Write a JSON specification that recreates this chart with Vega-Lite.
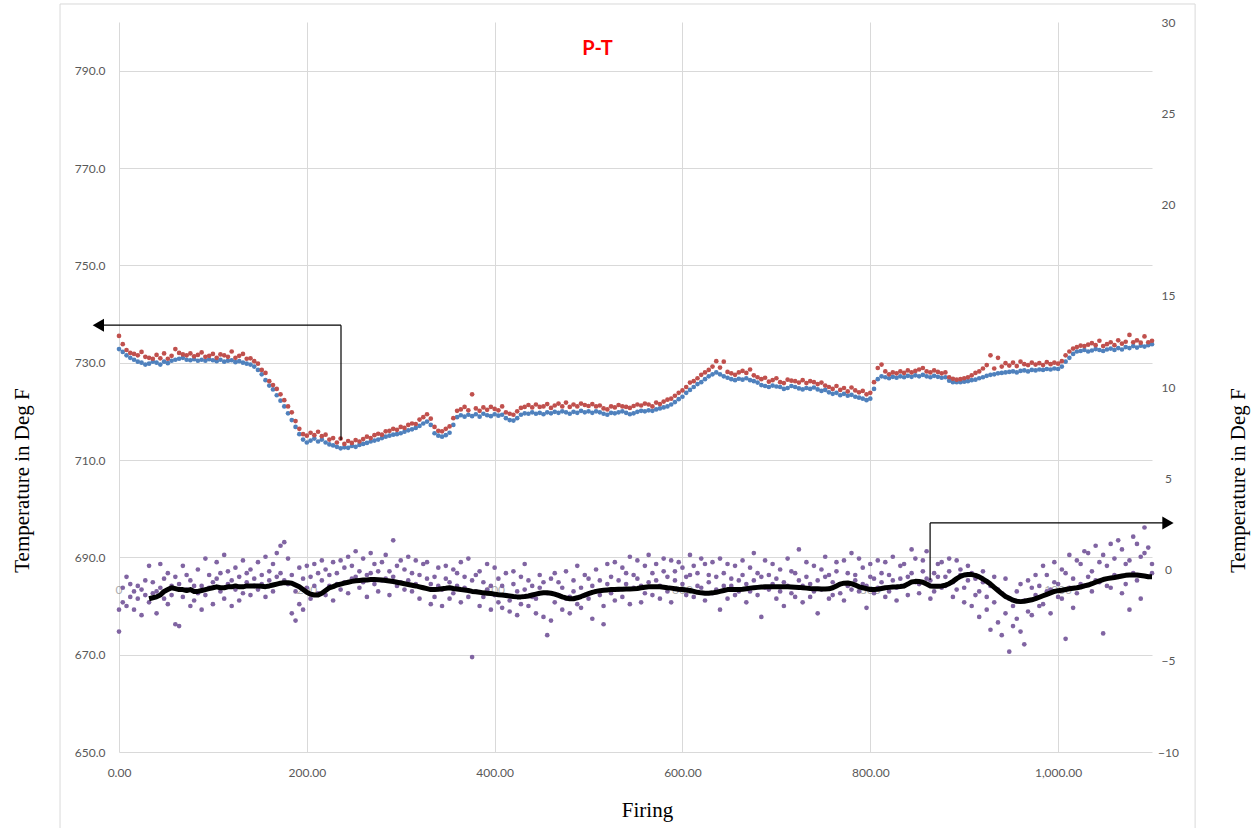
{
  "$schema": "https://vega.github.io/schema/vega-lite/v6.json",
  "autosize": {"type": "none"},
  "width": 1033,
  "height": 730,
  "padding": {"left": 119, "top": 22, "right": 107, "bottom": 76},
  "background": "white",
  "config": {
    "view": {"stroke": null},
    "axis": {"labelFont": "Lato", "labelFontSize": 12, "labelColor": "#595959", "titleFont": "Liberation Serif", "titleFontSize": 21, "titleFontWeight": "normal", "titleColor": "#000000", "labelFlush": false, "labelOverlap": false}
  },
  "title": {"text": "P-T", "color": "#FF0000", "font": "Lato", "fontSize": 20, "fontWeight": "bold", "anchor": "middle", "frame": "group", "dx": -38, "offset": -25, "dy": 41, "baseline": "middle"},
  "data": {"values": [
      {"x":0,"b":732.8,"r":735.5,"p":-2.2,"q":-3.4},
      {"x":4,"b":732.2,"r":733.8,"p":-1.0,"q":-1.8},
      {"x":8,"b":731.5,"r":732.6,"p":-0.4,"q":-2.0},
      {"x":12,"b":731.0,"r":732.0,"p":-1.5,"q":-0.8},
      {"x":16,"b":730.6,"r":731.8,"p":-1.2,"q":-2.2},
      {"x":20,"b":730.2,"r":731.5,"p":-0.9,"q":-1.6},
      {"x":24,"b":730.0,"r":732.2,"p":-2.5,"q":-1.1},
      {"x":28,"b":729.6,"r":731.2,"p":-0.6,"q":-1.4},
      {"x":32,"b":729.8,"r":731.0,"p":-1.8,"q":0.2,"m":-1.6},
      {"x":36,"b":730.2,"r":730.8,"p":-0.7,"q":-1.3,"m":-1.55},
      {"x":40,"b":730.0,"r":731.6,"p":-1.2,"q":-2.4,"m":-1.5},
      {"x":44,"b":729.6,"r":730.9,"p":0.3,"q":-1.0,"m":-1.4},
      {"x":48,"b":730.2,"r":731.9,"p":-1.6,"q":-0.5,"m":-1.2},
      {"x":52,"b":729.9,"r":730.8,"p":-0.2,"q":-1.9,"m":-1.1},
      {"x":56,"b":730.4,"r":731.4,"p":-1.4,"q":-0.9,"m":-1.0},
      {"x":60,"b":730.6,"r":732.8,"p":-3.0,"q":-0.4,"m":-1.05},
      {"x":64,"b":730.8,"r":732.0,"p":-0.8,"q":-3.1,"m":-1.1},
      {"x":68,"b":731.0,"r":731.7,"p":0.2,"q":-1.5,"m":-1.1},
      {"x":72,"b":730.6,"r":731.5,"p":-1.1,"q":-0.3,"m":-1.15},
      {"x":76,"b":730.5,"r":731.9,"p":-0.6,"q":-2.0,"m":-1.1},
      {"x":80,"b":730.7,"r":731.3,"p":-1.7,"q":-0.9,"m":-1.2},
      {"x":84,"b":730.4,"r":731.6,"p":0.0,"q":-1.3,"m":-1.2},
      {"x":88,"b":730.6,"r":732.1,"p":-0.9,"q":-2.2,"m":-1.15},
      {"x":92,"b":730.4,"r":731.2,"p":-1.4,"q":0.6,"m":-1.1},
      {"x":96,"b":730.7,"r":731.4,"p":-0.3,"q":-1.0,"m":-1.05},
      {"x":100,"b":730.5,"r":731.8,"p":-1.9,"q":-0.7,"m":-1.0},
      {"x":104,"b":730.3,"r":731.0,"p":-0.5,"q":0.4,"m":-0.95},
      {"x":108,"b":730.6,"r":731.7,"p":-1.2,"q":-0.2,"m":-1.0},
      {"x":112,"b":730.2,"r":731.5,"p":0.8,"q":-1.6,"m":-1.0},
      {"x":116,"b":730.4,"r":731.2,"p":-0.8,"q":-0.1,"m":-0.95},
      {"x":120,"b":730.5,"r":732.3,"p":-2.0,"q":-0.6,"m":-0.95},
      {"x":124,"b":730.1,"r":731.0,"p":0.1,"q":-1.1,"m":-0.9},
      {"x":128,"b":730.3,"r":731.4,"p":-0.4,"q":-1.7,"m":-0.95},
      {"x":132,"b":730.0,"r":731.8,"p":-1.3,"q":0.5,"m":-0.95},
      {"x":136,"b":729.8,"r":730.8,"p":-0.7,"q":-0.2,"m":-0.9},
      {"x":140,"b":729.6,"r":730.9,"p":0.0,"q":-1.4,"m":-0.9},
      {"x":144,"b":729.2,"r":730.3,"p":-0.5,"q":-0.9,"m":-0.9},
      {"x":148,"b":728.5,"r":729.8,"p":-1.1,"q":0.4,"m":-0.9},
      {"x":152,"b":727.6,"r":728.5,"p":-0.3,"q":-0.8,"m":-0.92},
      {"x":156,"b":726.4,"r":727.9,"p":0.7,"q":-1.5,"m":-0.94},
      {"x":160,"b":725.3,"r":726.2,"p":-0.6,"q":-0.1,"m":-0.9},
      {"x":164,"b":724.5,"r":725.4,"p":-1.2,"q":0.3,"m":-0.85},
      {"x":168,"b":723.3,"r":724.6,"p":0.9,"q":-0.4,"m":-0.8},
      {"x":172,"b":722.2,"r":723.5,"p":-0.2,"q":1.3,"m":-0.75},
      {"x":176,"b":721.0,"r":722.3,"p":1.5,"q":-0.6,"m":-0.72},
      {"x":180,"b":719.6,"r":721.0,"p":-0.8,"q":0.6,"m":-0.72},
      {"x":184,"b":718.2,"r":719.8,"p":-2.4,"q":-0.3,"m":-0.75},
      {"x":188,"b":716.8,"r":718.0,"p":-2.8,"q":-1.2,"m":-0.85},
      {"x":192,"b":715.3,"r":716.4,"p":-1.9,"q":0.1,"m":-0.95},
      {"x":196,"b":714.2,"r":715.3,"p":-2.2,"q":-0.5,"m":-1.1},
      {"x":200,"b":713.6,"r":715.0,"p":-1.0,"q":0.2,"m":-1.25},
      {"x":204,"b":714.0,"r":715.6,"p":-0.4,"q":-1.6,"m":-1.35},
      {"x":208,"b":714.4,"r":715.1,"p":0.3,"q":-0.9,"m":-1.4},
      {"x":212,"b":713.8,"r":715.8,"p":-1.3,"q":-0.2,"m":-1.4},
      {"x":216,"b":714.2,"r":714.9,"p":-0.6,"q":0.5,"m":-1.3},
      {"x":220,"b":713.6,"r":715.2,"p":0.0,"q":-1.4,"m":-1.15},
      {"x":224,"b":713.2,"r":714.2,"p":-0.9,"q":-0.3,"m":-1.0},
      {"x":228,"b":713.0,"r":714.5,"p":-1.7,"q":0.4,"m":-0.94},
      {"x":232,"b":712.7,"r":713.6,"p":-0.2,"q":-0.8,"m":-0.85},
      {"x":236,"b":712.4,"r":714.4,"p":0.5,"q":-1.1,"m":-0.8},
      {"x":240,"b":712.6,"r":713.3,"p":-0.7,"q":0.1,"m":-0.75},
      {"x":244,"b":712.5,"r":713.9,"p":-1.3,"q":0.7,"m":-0.7},
      {"x":248,"b":712.9,"r":713.5,"p":0.2,"q":-0.5,"m":-0.65},
      {"x":252,"b":712.7,"r":714.1,"p":-0.4,"q":1.0,"m":-0.62},
      {"x":256,"b":713.1,"r":713.8,"p":-1.0,"q":-0.1,"m":-0.6},
      {"x":260,"b":713.3,"r":714.3,"p":0.6,"q":-0.7,"m":-0.58},
      {"x":264,"b":713.5,"r":714.8,"p":-0.3,"q":-1.5,"m":-0.57},
      {"x":268,"b":713.8,"r":714.5,"p":0.9,"q":-0.2,"m":-0.55},
      {"x":272,"b":714.0,"r":715.1,"p":-0.8,"q":0.3,"m":-0.55},
      {"x":276,"b":714.2,"r":715.4,"p":-0.1,"q":-1.2,"m":-0.56},
      {"x":280,"b":714.5,"r":715.2,"p":0.4,"q":-0.6,"m":-0.58},
      {"x":284,"b":714.8,"r":715.9,"p":-0.5,"q":0.8,"m":-0.6},
      {"x":288,"b":715.0,"r":716.0,"p":-1.4,"q":-0.1,"m":-0.63},
      {"x":292,"b":715.2,"r":716.4,"p":1.6,"q":-0.4,"m":-0.66},
      {"x":296,"b":715.3,"r":716.2,"p":0.2,"q":-0.9,"m":-0.7},
      {"x":300,"b":715.5,"r":716.8,"p":-0.7,"q":0.5,"m":-0.74},
      {"x":304,"b":715.8,"r":716.6,"p":0.0,"q":-1.1,"m":-0.78},
      {"x":308,"b":716.1,"r":717.2,"p":-0.6,"q":0.7,"m":-0.82},
      {"x":312,"b":716.3,"r":717.5,"p":-1.2,"q":-0.2,"m":-0.86},
      {"x":316,"b":716.6,"r":717.4,"p":0.5,"q":-0.8,"m":-0.9},
      {"x":320,"b":717.0,"r":718.3,"p":-0.3,"q":-1.6,"m":-0.95},
      {"x":324,"b":717.5,"r":718.8,"p":-1.0,"q":0.3,"m":-1.0},
      {"x":328,"b":717.9,"r":719.4,"p":0.4,"q":-0.5,"m":-1.05},
      {"x":332,"b":717.2,"r":718.5,"p":-0.8,"q":-1.9,"m":-1.1},
      {"x":336,"b":715.5,"r":716.8,"p":-1.5,"q":-0.4,"m":-1.1},
      {"x":340,"b":715.0,"r":716.0,"p":0.1,"q":-0.9,"m":-1.08},
      {"x":344,"b":714.8,"r":715.9,"p":-1.1,"q":-2.0,"m":-1.05},
      {"x":348,"b":715.1,"r":716.4,"p":-0.5,"q":0.2,"m":-1.03},
      {"x":352,"b":715.6,"r":716.9,"p":-1.6,"q":-0.7,"m":-1.0},
      {"x":356,"b":717.2,"r":718.6,"p":0.0,"q":-1.3,"m":-1.04},
      {"x":360,"b":718.8,"r":720.1,"p":-0.9,"q":-0.2,"m":-1.07},
      {"x":364,"b":719.2,"r":720.4,"p":-1.8,"q":0.4,"m":-1.1},
      {"x":368,"b":718.9,"r":720.9,"p":-0.4,"q":-1.0,"m":-1.12},
      {"x":372,"b":719.3,"r":720.2,"p":0.6,"q":-1.5,"m":-1.15},
      {"x":376,"b":719.0,"r":723.5,"p":-0.6,"q":-4.8,"m":-1.2},
      {"x":380,"b":719.4,"r":720.6,"p":-1.2,"q":-0.3,"m":-1.22},
      {"x":384,"b":718.9,"r":720.1,"p":-0.1,"q":-2.0,"m":-1.25},
      {"x":388,"b":719.5,"r":720.8,"p":-1.5,"q":-0.7,"m":-1.28},
      {"x":392,"b":719.2,"r":720.3,"p":0.3,"q":-1.1,"m":-1.3},
      {"x":396,"b":719.0,"r":720.9,"p":-0.9,"q":-2.2,"m":-1.32},
      {"x":400,"b":719.4,"r":720.5,"p":-1.4,"q":0.1,"m":-1.35},
      {"x":404,"b":719.1,"r":720.2,"p":-0.5,"q":-1.8,"m":-1.38},
      {"x":408,"b":719.3,"r":721.0,"p":-2.1,"q":-0.9,"m":-1.4},
      {"x":412,"b":718.6,"r":719.8,"p":-0.2,"q":-1.4,"m":-1.42},
      {"x":416,"b":718.2,"r":719.5,"p":-1.7,"q":-2.3,"m":-1.45},
      {"x":420,"b":718.1,"r":719.3,"p":-0.8,"q":-0.1,"m":-1.48},
      {"x":424,"b":718.6,"r":720.0,"p":-2.5,"q":-1.2,"m":-1.5},
      {"x":428,"b":719.3,"r":720.7,"p":-0.4,"q":-1.9,"m":-1.5},
      {"x":432,"b":719.6,"r":720.9,"p":-1.1,"q":0.3,"m":-1.48},
      {"x":436,"b":719.5,"r":721.3,"p":-2.0,"q":-0.6,"m":-1.45},
      {"x":440,"b":719.8,"r":720.8,"p":-0.9,"q":-1.5,"m":-1.4},
      {"x":444,"b":719.5,"r":721.4,"p":-1.6,"q":-2.4,"m":-1.35},
      {"x":448,"b":719.7,"r":720.9,"p":-0.3,"q":-1.0,"m":-1.3},
      {"x":452,"b":719.4,"r":721.0,"p":-2.6,"q":-0.7,"m":-1.28},
      {"x":456,"b":719.8,"r":721.5,"p":-1.3,"q":-3.6,"m":-1.28},
      {"x":460,"b":719.6,"r":720.7,"p":-0.5,"q":-2.8,"m":-1.3},
      {"x":464,"b":719.9,"r":721.2,"p":-1.8,"q":-0.2,"m":-1.35},
      {"x":468,"b":719.7,"r":721.6,"p":-0.7,"q":-1.4,"m":-1.42},
      {"x":472,"b":720.0,"r":721.0,"p":-2.2,"q":-1.0,"m":-1.5},
      {"x":476,"b":719.8,"r":721.8,"p":-0.1,"q":-1.6,"m":-1.56},
      {"x":480,"b":719.5,"r":720.9,"p":-1.5,"q":-2.4,"m":-1.6},
      {"x":484,"b":719.9,"r":721.4,"p":-0.6,"q":-1.2,"m":-1.6},
      {"x":488,"b":719.7,"r":721.0,"p":-1.9,"q":0.2,"m":-1.55},
      {"x":492,"b":720.1,"r":721.6,"p":-1.0,"q":-2.1,"m":-1.48},
      {"x":496,"b":719.8,"r":721.3,"p":-0.3,"q":-1.4,"m":-1.4},
      {"x":500,"b":720.0,"r":721.1,"p":-1.6,"q":-0.5,"m":-1.32},
      {"x":504,"b":719.7,"r":721.5,"p":-0.9,"q":-2.7,"m":-1.25},
      {"x":508,"b":720.0,"r":721.0,"p":0.0,"q":-1.2,"m":-1.2},
      {"x":512,"b":719.8,"r":721.2,"p":-1.4,"q":-0.6,"m":-1.16},
      {"x":516,"b":719.5,"r":720.6,"p":-2.0,"q":-3.0,"m":-1.14},
      {"x":520,"b":719.3,"r":720.4,"p":-0.8,"q":0.3,"m":-1.12},
      {"x":524,"b":719.7,"r":721.0,"p":-1.3,"q":-0.4,"m":-1.1},
      {"x":528,"b":719.6,"r":720.8,"p":0.4,"q":-1.7,"m":-1.1},
      {"x":532,"b":719.8,"r":721.3,"p":-0.6,"q":-1.1,"m":-1.08},
      {"x":536,"b":720.0,"r":721.0,"p":-1.5,"q":0.1,"m":-1.08},
      {"x":540,"b":719.7,"r":720.9,"p":-0.2,"q":-0.8,"m":-1.07},
      {"x":544,"b":719.4,"r":720.7,"p":0.7,"q":-1.9,"m":-1.07},
      {"x":548,"b":719.6,"r":721.1,"p":-1.0,"q":-0.3,"m":-1.06},
      {"x":552,"b":719.9,"r":721.4,"p":-0.5,"q":0.5,"m":-1.04},
      {"x":556,"b":720.1,"r":721.2,"p":-1.8,"q":-0.9,"m":-1.0},
      {"x":560,"b":720.0,"r":721.6,"p":0.2,"q":-1.3,"m":-0.97},
      {"x":564,"b":720.2,"r":721.4,"p":-0.7,"q":0.8,"m":-0.95},
      {"x":568,"b":720.1,"r":721.0,"p":-1.4,"q":-0.2,"m":-0.94},
      {"x":572,"b":720.4,"r":721.8,"p":0.3,"q":-0.6,"m":-0.94},
      {"x":576,"b":720.6,"r":721.5,"p":-0.9,"q":-1.6,"m":-0.95},
      {"x":580,"b":720.8,"r":722.0,"p":-0.1,"q":0.6,"m":-0.97},
      {"x":584,"b":721.0,"r":722.4,"p":-1.2,"q":-0.4,"m":-1.0},
      {"x":588,"b":721.4,"r":722.6,"p":0.5,"q":-1.8,"m":-1.02},
      {"x":592,"b":721.9,"r":723.2,"p":-0.6,"q":-0.1,"m":-1.05},
      {"x":596,"b":722.5,"r":723.8,"p":-1.1,"q":0.4,"m":-1.08},
      {"x":600,"b":723.0,"r":724.3,"p":0.1,"q":-0.8,"m":-1.1},
      {"x":604,"b":723.8,"r":725.0,"p":-0.4,"q":-1.4,"m":-1.12},
      {"x":608,"b":724.4,"r":725.9,"p":0.8,"q":-0.3,"m":-1.15},
      {"x":612,"b":725.0,"r":726.2,"p":-1.5,"q":0.2,"m":-1.2},
      {"x":616,"b":725.6,"r":726.8,"p":-0.2,"q":-0.9,"m":-1.25},
      {"x":620,"b":726.0,"r":727.5,"p":-1.0,"q":0.6,"m":-1.28},
      {"x":624,"b":726.6,"r":728.0,"p":0.3,"q":-1.7,"m":-1.3},
      {"x":628,"b":727.2,"r":728.5,"p":-0.7,"q":-0.3,"m":-1.3},
      {"x":632,"b":727.6,"r":729.2,"p":-1.3,"q":0.4,"m":-1.28},
      {"x":636,"b":728.0,"r":730.3,"p":-0.4,"q":-1.1,"m":-1.25},
      {"x":640,"b":727.6,"r":729.0,"p":0.6,"q":-2.2,"m":-1.2},
      {"x":644,"b":727.2,"r":730.2,"p":-0.9,"q":-0.2,"m":-1.15},
      {"x":648,"b":726.9,"r":728.1,"p":-1.6,"q":0.3,"m":-1.1},
      {"x":652,"b":726.6,"r":727.8,"p":-0.5,"q":-0.9,"m":-1.1},
      {"x":656,"b":726.4,"r":727.5,"p":0.2,"q":-1.4,"m":-1.1},
      {"x":660,"b":726.7,"r":728.0,"p":-1.2,"q":-0.6,"m":-1.1},
      {"x":664,"b":726.5,"r":728.3,"p":-0.3,"q":0.5,"m":-1.08},
      {"x":668,"b":726.8,"r":727.9,"p":-1.8,"q":-0.8,"m":-1.05},
      {"x":672,"b":726.4,"r":728.6,"p":0.1,"q":-1.2,"m":-1.02},
      {"x":676,"b":726.2,"r":727.4,"p":-0.6,"q":0.9,"m":-1.0},
      {"x":680,"b":725.9,"r":727.0,"p":-1.4,"q":-0.2,"m":-0.98},
      {"x":684,"b":725.4,"r":726.6,"p":-0.4,"q":-2.6,"m":-0.96},
      {"x":688,"b":725.2,"r":726.9,"p":0.5,"q":-1.0,"m":-0.95},
      {"x":692,"b":725.0,"r":726.1,"p":-1.1,"q":-0.3,"m":-0.95},
      {"x":696,"b":725.3,"r":726.4,"p":-0.8,"q":0.3,"m":-0.95},
      {"x":700,"b":725.1,"r":726.8,"p":-1.6,"q":-0.5,"m":-0.95},
      {"x":704,"b":725.0,"r":726.0,"p":0.0,"q":-1.2,"m":-0.95},
      {"x":708,"b":724.6,"r":725.8,"p":-0.7,"q":-2.0,"m":-0.95},
      {"x":712,"b":724.8,"r":726.5,"p":0.6,"q":-0.9,"m":-0.95},
      {"x":716,"b":725.2,"r":726.3,"p":-1.3,"q":-0.1,"m":-0.96},
      {"x":720,"b":725.0,"r":726.2,"p":-0.2,"q":-1.5,"m":-0.97},
      {"x":724,"b":724.7,"r":725.9,"p":1.1,"q":-0.6,"m":-0.98},
      {"x":728,"b":724.5,"r":726.4,"p":-0.9,"q":-1.8,"m":-1.0},
      {"x":732,"b":724.8,"r":725.8,"p":-0.4,"q":0.4,"m":-1.02},
      {"x":736,"b":724.6,"r":726.2,"p":-1.5,"q":-0.8,"m":-1.04},
      {"x":740,"b":724.9,"r":726.0,"p":0.2,"q":-1.2,"m":-1.05},
      {"x":744,"b":724.5,"r":725.6,"p":-0.6,"q":-2.4,"m":-1.06},
      {"x":748,"b":724.2,"r":725.9,"p":-1.1,"q":0.0,"m":-1.07},
      {"x":752,"b":724.4,"r":725.3,"p":0.7,"q":-0.4,"m":-1.07},
      {"x":756,"b":723.9,"r":725.0,"p":-0.3,"q":-1.6,"m":-1.06},
      {"x":760,"b":723.6,"r":724.6,"p":-1.4,"q":-0.7,"m":-1.0},
      {"x":764,"b":723.8,"r":725.2,"p":0.4,"q":-0.1,"m":-0.9},
      {"x":768,"b":723.3,"r":724.4,"p":-0.8,"q":-1.3,"m":-0.8},
      {"x":772,"b":723.6,"r":724.8,"p":-1.7,"q":0.5,"m":-0.75},
      {"x":776,"b":723.2,"r":724.1,"p":-0.2,"q":-0.9,"m":-0.74},
      {"x":780,"b":723.4,"r":724.9,"p":0.9,"q":-1.1,"m":-0.78},
      {"x":784,"b":723.0,"r":724.3,"p":-0.6,"q":-0.3,"m":-0.85},
      {"x":788,"b":722.8,"r":723.9,"p":-1.2,"q":0.6,"m":-0.95},
      {"x":792,"b":722.6,"r":724.2,"p":0.1,"q":-0.8,"m":-1.0},
      {"x":796,"b":722.3,"r":723.5,"p":-0.9,"q":-2.1,"m":-1.05},
      {"x":800,"b":722.6,"r":723.8,"p":-0.4,"q":0.3,"m":-1.1},
      {"x":804,"b":724.6,"r":726.0,"p":-1.3,"q":-0.5,"m":-1.1},
      {"x":808,"b":726.6,"r":728.9,"p":0.5,"q":-1.0,"m":-1.08},
      {"x":812,"b":727.2,"r":729.6,"p":-0.7,"q":-0.2,"m":-1.04},
      {"x":816,"b":727.0,"r":728.2,"p":-1.5,"q":0.4,"m":-1.0},
      {"x":820,"b":726.8,"r":727.6,"p":-0.3,"q":-1.2,"m":-0.98},
      {"x":824,"b":727.1,"r":728.0,"p":0.7,"q":-0.6,"m":-0.96},
      {"x":828,"b":726.9,"r":727.8,"p":-1.0,"q":-1.7,"m":-0.95},
      {"x":832,"b":727.2,"r":728.2,"p":-0.5,"q":0.2,"m":-0.93},
      {"x":836,"b":727.0,"r":727.9,"p":0.3,"q":-0.9,"m":-0.9},
      {"x":840,"b":727.3,"r":728.4,"p":-1.4,"q":-0.4,"m":-0.8},
      {"x":844,"b":727.1,"r":728.0,"p":-0.2,"q":1.1,"m":-0.68},
      {"x":848,"b":727.4,"r":728.3,"p":0.6,"q":-0.7,"m":-0.65},
      {"x":852,"b":727.2,"r":728.6,"p":-0.8,"q":-1.3,"m":-0.66},
      {"x":856,"b":727.5,"r":728.9,"p":-0.1,"q":0.5,"m":-0.7},
      {"x":860,"b":727.2,"r":728.2,"p":1.0,"q":-0.5,"m":-0.8},
      {"x":864,"b":727.0,"r":728.0,"p":-0.6,"q":-1.6,"m":-0.9},
      {"x":868,"b":727.3,"r":728.4,"p":-1.2,"q":-0.2,"m":-0.92},
      {"x":872,"b":727.1,"r":728.1,"p":-0.4,"q":0.3,"m":-0.92},
      {"x":876,"b":726.9,"r":727.8,"p":0.4,"q":-1.0,"m":-0.9},
      {"x":880,"b":727.0,"r":728.0,"p":-0.9,"q":-0.4,"m":-0.86},
      {"x":884,"b":726.3,"r":727.0,"p":-0.1,"q":0.6,"m":-0.78},
      {"x":888,"b":726.0,"r":726.7,"p":-1.5,"q":-0.7,"m":-0.65},
      {"x":892,"b":726.0,"r":726.5,"p":0.5,"q":-1.1,"m":-0.5},
      {"x":896,"b":726.0,"r":726.6,"p":-0.3,"q":0.0,"m":-0.38},
      {"x":900,"b":726.1,"r":726.8,"p":-1.0,"q":-1.8,"m":-0.3},
      {"x":904,"b":726.2,"r":727.0,"p":0.2,"q":-0.6,"m":-0.27},
      {"x":908,"b":726.4,"r":727.4,"p":-2.0,"q":-0.2,"m":-0.28},
      {"x":912,"b":726.5,"r":727.9,"p":-0.5,"q":-1.4,"m":-0.32},
      {"x":916,"b":726.8,"r":728.2,"p":-1.2,"q":-2.6,"m":-0.4},
      {"x":920,"b":727.0,"r":728.8,"p":-0.7,"q":-0.1,"m":-0.52},
      {"x":924,"b":727.3,"r":729.5,"p":-2.2,"q":-1.5,"m":-0.65},
      {"x":928,"b":727.5,"r":731.5,"p":-0.9,"q":-3.3,"m":-0.8},
      {"x":932,"b":727.6,"r":728.8,"p":-1.8,"q":-0.4,"m":-0.98},
      {"x":936,"b":727.8,"r":731.0,"p":-2.9,"q":-1.1,"m":-1.15},
      {"x":940,"b":727.9,"r":729.2,"p":-1.3,"q":-3.6,"m":-1.32},
      {"x":944,"b":728.0,"r":729.9,"p":-0.5,"q":-2.4,"m":-1.48},
      {"x":948,"b":728.1,"r":729.4,"p":-4.5,"q":-1.6,"m":-1.58},
      {"x":952,"b":728.2,"r":730.0,"p":-2.0,"q":-3.1,"m":-1.68},
      {"x":956,"b":728.0,"r":729.3,"p":-1.2,"q":-2.7,"m":-1.74},
      {"x":960,"b":728.3,"r":730.2,"p":-3.4,"q":-0.8,"m":-1.76},
      {"x":964,"b":728.4,"r":729.7,"p":-1.7,"q":-4.1,"m":-1.74},
      {"x":968,"b":728.2,"r":729.5,"p":-0.6,"q":-2.3,"m":-1.7},
      {"x":972,"b":728.5,"r":730.0,"p":-2.5,"q":-1.0,"m":-1.66},
      {"x":976,"b":728.4,"r":729.6,"p":-1.4,"q":-0.3,"m":-1.6},
      {"x":980,"b":728.6,"r":729.9,"p":-0.9,"q":-2.0,"m":-1.52},
      {"x":984,"b":728.5,"r":729.5,"p":-1.9,"q":0.2,"m":-1.44},
      {"x":988,"b":728.7,"r":730.1,"p":-0.3,"q":-1.2,"m":-1.36},
      {"x":992,"b":728.6,"r":729.7,"p":-1.1,"q":-2.4,"m":-1.28},
      {"x":996,"b":728.8,"r":730.0,"p":0.4,"q":-0.7,"m":-1.2},
      {"x":1000,"b":728.7,"r":729.8,"p":-0.8,"q":-1.5,"m":-1.16},
      {"x":1004,"b":729.2,"r":730.3,"p":-1.6,"q":0.0,"m":-1.14},
      {"x":1008,"b":730.2,"r":731.5,"p":-0.2,"q":-3.8,"m":-1.1},
      {"x":1012,"b":731.0,"r":732.3,"p":0.8,"q":-1.0,"m":-1.06},
      {"x":1016,"b":731.8,"r":732.9,"p":-0.5,"q":-2.1,"m":-1.03},
      {"x":1020,"b":732.3,"r":733.2,"p":-1.3,"q":0.5,"m":-1.0},
      {"x":1024,"b":732.4,"r":733.5,"p":0.3,"q":-0.8,"m":-0.96},
      {"x":1028,"b":732.6,"r":733.4,"p":-0.9,"q":1.0,"m":-0.9},
      {"x":1032,"b":732.3,"r":733.7,"p":0.9,"q":-0.4,"m":-0.85},
      {"x":1036,"b":732.5,"r":734.0,"p":-0.1,"q":-1.2,"m":-0.78},
      {"x":1040,"b":732.8,"r":733.6,"p":1.3,"q":-0.6,"m":-0.7},
      {"x":1044,"b":732.6,"r":734.5,"p":-0.7,"q":0.4,"m":-0.62},
      {"x":1048,"b":732.4,"r":733.4,"p":-3.5,"q":0.8,"m":-0.55},
      {"x":1052,"b":732.7,"r":733.8,"p":0.2,"q":-0.9,"m":-0.5},
      {"x":1056,"b":732.9,"r":734.2,"p":-1.0,"q":1.4,"m":-0.47},
      {"x":1060,"b":732.6,"r":733.6,"p":0.6,"q":-0.3,"m":-0.44},
      {"x":1064,"b":733.0,"r":734.6,"p":-0.4,"q":1.6,"m":-0.4},
      {"x":1068,"b":732.7,"r":733.9,"p":1.1,"q":-1.3,"m":-0.36},
      {"x":1072,"b":733.2,"r":734.3,"p":-0.8,"q":0.3,"m":-0.32},
      {"x":1076,"b":733.0,"r":735.7,"p":0.5,"q":-2.2,"m":-0.3},
      {"x":1080,"b":733.4,"r":734.2,"p":-0.2,"q":1.8,"m":-0.3},
      {"x":1084,"b":733.1,"r":734.6,"p":1.4,"q":-0.6,"m":-0.3},
      {"x":1088,"b":733.5,"r":734.1,"p":-1.6,"q":0.7,"m":-0.33},
      {"x":1092,"b":733.3,"r":735.4,"p":0.9,"q":2.3,"m":-0.36},
      {"x":1096,"b":733.6,"r":734.2,"p":-0.4,"q":1.2,"m":-0.4},
      {"x":1100,"b":733.8,"r":734.5,"p":0.3,"q":-0.2,"m":-0.4}
  ]},
  "layer": [
    {
      "mark": {"type": "circle", "size": 22, "opacity": 1, "color": "#4F81BD"},
      "encoding": {
        "x": {"field": "x", "type": "quantitative", "scale": {"domain": [0, 1100], "nice": false, "zero": false},
          "axis": {"values": [0, 200, 400, 600, 800, 1000], "format": ",.2f", "grid": true, "gridColor": "#d9d9d9", "domain": false, "ticks": false, "labelPadding": 15, "title": "Firing", "titleX": 528, "titleY": 58, "titleBaseline": "middle"}},
        "y": {"field": "b", "type": "quantitative", "scale": {"domain": [650, 800], "nice": false, "zero": false},
          "axis": {"orient": "left", "values": [650, 670, 690, 710, 730, 750, 770, 790], "format": ".1f", "grid": true, "gridColor": "#d9d9d9", "domain": false, "ticks": false, "labelPadding": 14, "title": "Temperature in Deg F", "titleAngle": -90, "titleX": -97, "titleY": 458, "titleAlign": "center", "titleBaseline": "middle"}}
      }
    },
    {
      "mark": {"type": "circle", "size": 22, "opacity": 1, "color": "#C0504D"},
      "encoding": {
        "x": {"field": "x", "type": "quantitative"},
        "y": {"field": "r", "type": "quantitative", "scale": {"domain": [650, 800], "nice": false, "zero": false}, "axis": null}
      }
    },
    {
      "data": {"values": [{"t":0,"label":"0"},{"t":200,"label":"200"},{"t":400,"label":"400"},{"t":600,"label":"600"},{"t":800,"label":"800"},{"t":1000,"label":"1000"}]},
      "mark": {"type": "text", "font": "Lato", "fontSize": 12, "color": "#8c8c8c", "opacity": 0.7, "dy": 20, "baseline": "middle", "align": "center"},
      "encoding": {
        "x": {"field": "t", "type": "quantitative"},
        "y": {"datum": 0, "type": "quantitative", "scale": {"domain": [-10, 30], "nice": false, "zero": false}, "axis": null},
        "text": {"field": "label"}
      }
    },
    {
      "mark": {"type": "circle", "size": 22, "opacity": 1, "color": "#8064A2"},
      "encoding": {
        "x": {"field": "x", "type": "quantitative"},
        "y": {"field": "p", "type": "quantitative", "scale": {"domain": [-10, 30], "nice": false, "zero": false},
          "axis": {"orient": "right", "values": [-10, -5, 0, 5, 10, 15, 20, 25, 30], "format": "d", "grid": false, "domain": false, "ticks": false, "labelPadding": 16, "labelAlign": "center", "title": "Temperature in Deg F", "titleAngle": -90, "titleX": 86, "titleY": 458, "titleAlign": "center", "titleBaseline": "middle"}}
      }
    },
    {
      "mark": {"type": "circle", "size": 22, "opacity": 1, "color": "#8064A2"},
      "encoding": {
        "x": {"field": "x", "type": "quantitative"},
        "y": {"field": "q", "type": "quantitative", "scale": {"domain": [-10, 30], "nice": false, "zero": false}, "axis": null}
      }
    },
    {
      "mark": {"type": "line", "color": "black", "strokeWidth": 5, "strokeJoin": "round"},
      "encoding": {
        "x": {"field": "x", "type": "quantitative"},
        "y": {"field": "m", "type": "quantitative", "scale": {"domain": [-10, 30], "nice": false, "zero": false}, "axis": null}
      }
    },
    {
      "data": {"values": [{}]},
      "mark": {"type": "rule", "color": "black", "strokeWidth": 1.2, "clip": false},
      "encoding": {
        "x": {"datum": 236.4, "type": "quantitative"},
        "y": {"datum": 714.1, "type": "quantitative", "scale": {"domain": [650, 800], "nice": false, "zero": false}, "axis": null},
        "y2": {"datum": 737.7}
      }
    },
    {
      "data": {"values": [{}]},
      "mark": {"type": "rule", "color": "black", "strokeWidth": 1.2, "clip": false},
      "encoding": {
        "x": {"datum": -17, "type": "quantitative"},
        "x2": {"datum": 236.4},
        "y": {"datum": 737.7, "type": "quantitative", "scale": {"domain": [650, 800], "nice": false, "zero": false}, "axis": null}
      }
    },
    {
      "data": {"values": [{}]},
      "mark": {"type": "point", "shape": "triangle-left", "filled": true, "color": "black", "size": 170, "opacity": 1, "clip": false},
      "encoding": {
        "x": {"datum": -22, "type": "quantitative"},
        "y": {"datum": 737.7, "type": "quantitative", "scale": {"domain": [650, 800], "nice": false, "zero": false}, "axis": null}
      }
    },
    {
      "data": {"values": [{}]},
      "mark": {"type": "rule", "color": "black", "strokeWidth": 1.2, "clip": false},
      "encoding": {
        "x": {"datum": 863.7, "type": "quantitative"},
        "y": {"datum": -0.58, "type": "quantitative", "scale": {"domain": [-10, 30], "nice": false, "zero": false}, "axis": null},
        "y2": {"datum": 2.55}
      }
    },
    {
      "data": {"values": [{}]},
      "mark": {"type": "rule", "color": "black", "strokeWidth": 1.2, "clip": false},
      "encoding": {
        "x": {"datum": 863.7, "type": "quantitative"},
        "x2": {"datum": 1113},
        "y": {"datum": 2.55, "type": "quantitative", "scale": {"domain": [-10, 30], "nice": false, "zero": false}, "axis": null}
      }
    },
    {
      "data": {"values": [{}]},
      "mark": {"type": "point", "shape": "triangle-right", "filled": true, "color": "black", "size": 170, "opacity": 1, "clip": false},
      "encoding": {
        "x": {"datum": 1117, "type": "quantitative"},
        "y": {"datum": 2.55, "type": "quantitative", "scale": {"domain": [-10, 30], "nice": false, "zero": false}, "axis": null}
      }
    },
    {
      "data": {"values": [{}]},
      "mark": {"type": "rect", "filled": false, "stroke": "#d9d9d9", "strokeWidth": 1, "clip": false},
      "encoding": {
        "x": {"datum": -62.8, "type": "quantitative"},
        "x2": {"datum": 1145.9},
        "y": {"datum": 803.7, "type": "quantitative", "scale": {"domain": [650, 800], "nice": false, "zero": false}, "axis": null},
        "y2": {"datum": 633.5}
      }
    }
  ],
  "resolve": {"scale": {"y": "independent"}}
}
